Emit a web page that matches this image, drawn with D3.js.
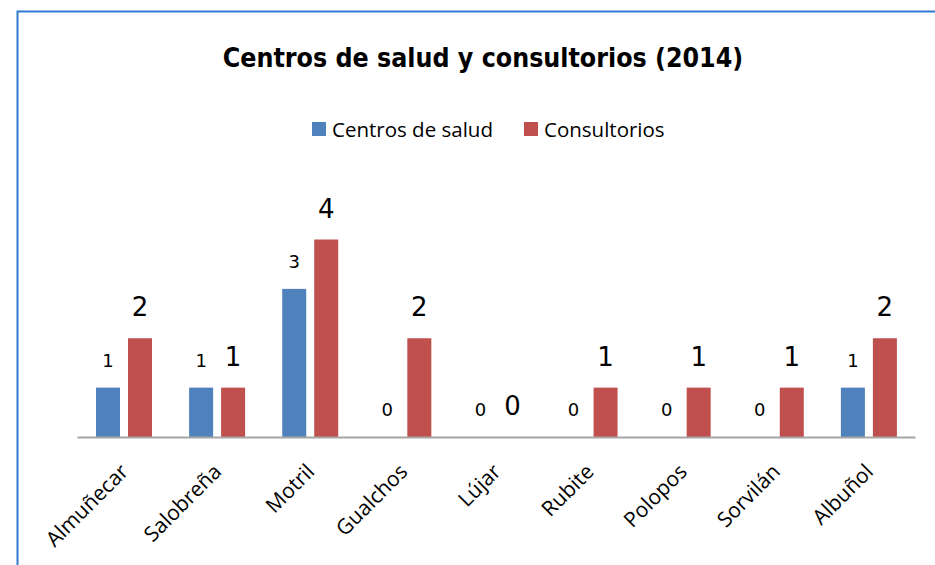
<!DOCTYPE html>
<html>
<head>
<meta charset="utf-8">
<script src="https://cdn.jsdelivr.net/npm/d3@7"></script>
<style>
  body { margin: 0; background: #fff; }
  svg { display: block; }
</style>
</head>
<body>
<svg id="chart"></svg>
<script>
// data
var municipios = ["Almuñecar", "Salobreña", "Motril", "Gualchos", "Lújar", "Rubite", "Polopos", "Sorvilán", "Albuñol"];
var centrosSalud = [1, 1, 3, 0, 0, 0, 0, 0, 1];
var consultorios = [2, 1, 4, 2, 0, 1, 1, 1, 2];
var seriesNames = ["Centros de salud", "Consultorios"];
var seriesColors = ["#4f81bd", "#c0504d"];

var W = 935, H = 565;
var svg = d3.select("#chart").attr("width", W).attr("height", H);

// chart frame (blue border, runs off the right/bottom)
svg.append("rect")
  .attr("x", 17.5).attr("y", 11.5)
  .attr("width", W + 20).attr("height", H + 20)
  .attr("fill", "#fff")
  .attr("stroke", "#2e7bcf").attr("stroke-width", 2);

// title
svg.append("text")
  .attr("x", 483).attr("y", 67)
  .attr("text-anchor", "middle")
  .attr("font-family", "DejaVu Sans Condensed, DejaVu Sans")
  .attr("font-weight", "bold")
  .attr("font-size", 26.5)
  .attr("fill", "#000")
  .text("Centros de salud y consultorios (2014)");

// scales
var x0 = d3.scaleBand().domain(municipios).range([77, 915]);
var x1 = d3.scaleBand().domain([0, 1]).range([19, 75]).paddingInner(0.25);
var y = d3.scaleLinear().domain([0, 4]).range([437, 239.5]);

var rows = municipios.map(function(m, i) {
  return { name: m, vals: [centrosSalud[i], consultorios[i]] };
});

var g = svg.selectAll("g.cat").data(rows).enter().append("g")
  .attr("class", "cat")
  .attr("transform", function(d) { return "translate(" + x0(d.name) + ",0)"; });

g.selectAll("rect").data(function(d) { return d.vals; }).enter().append("rect")
  .attr("x", function(d, i) { return x1(i); })
  .attr("y", function(d) { return y(d); })
  .attr("width", x1.bandwidth())
  .attr("height", function(d) { return y(0) - y(d); })
  .attr("fill", function(d, i) { return seriesColors[i]; });

// value labels: small for first series, large for second
g.selectAll("text").data(function(d) { return d.vals; }).enter().append("text")
  .attr("x", function(d, i) { return x1(i) + x1.bandwidth() / 2; })
  .attr("y", function(d, i) { return y(d) - (i === 0 ? 21 : 22); })
  .attr("text-anchor", "middle")
  .attr("font-family", "DejaVu Sans")
  .attr("font-size", function(d, i) { return i === 0 ? 18 : 26; })
  .attr("fill", "#000")
  .text(function(d) { return d; });

// axis
var xAxis = d3.axisBottom(x0).tickSize(0).tickPadding(0);
var ax = svg.append("g").attr("transform", "translate(0," + y(0) + ")").call(xAxis);
ax.select(".domain").attr("stroke", "#a6a6a6").attr("stroke-width", 2);
ax.selectAll(".tick text")
  .attr("font-family", "Open Sans")
  .attr("font-size", 21)
  .attr("fill", "#000")
  .attr("text-anchor", "end")
  .attr("dy", 0)
  .attr("transform", "translate(6,36) rotate(-45)");

// legend
var leg = svg.append("g").selectAll("g").data(seriesNames).enter().append("g")
  .attr("transform", function(d, i) { return "translate(" + (i === 0 ? 312 : 524) + ",122)"; });
leg.append("rect").attr("width", 14).attr("height", 14)
  .attr("fill", function(d, i) { return seriesColors[i]; });
leg.append("text").attr("x", 20).attr("y", 14.5)
  .attr("font-family", "Open Sans")
  .attr("font-size", 20.5)
  .attr("fill", "#000")
  .text(function(d) { return d; });
</script>
</body>
</html>
